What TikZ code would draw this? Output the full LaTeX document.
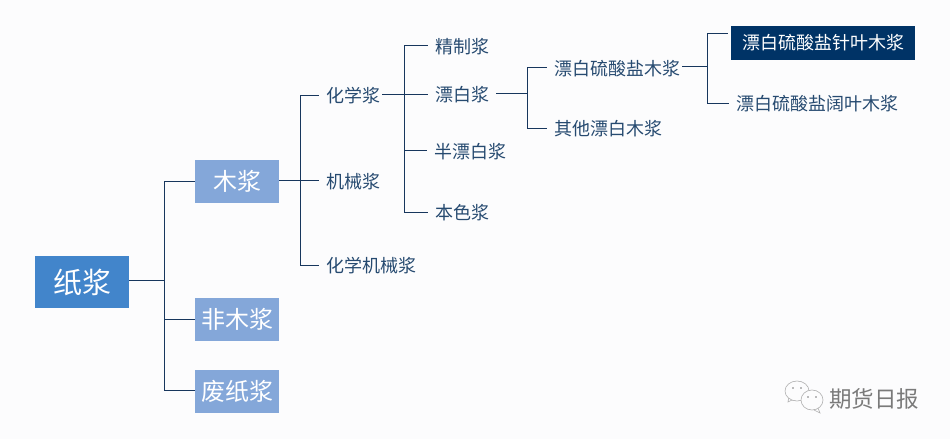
\documentclass[tikz,border=0pt]{standalone}
\usepackage{fontspec}
\setmainfont{Noto Sans CJK SC}[BoldFont={Noto Sans CJK SC}]
\definecolor{bgc}{HTML}{FCFCFD}
\definecolor{linec}{HTML}{17365D}
\definecolor{textc}{HTML}{264A70}
\definecolor{rootc}{HTML}{4285CB}
\definecolor{subc}{HTML}{84A7D9}
\definecolor{darkc}{HTML}{003366}
\definecolor{markc}{HTML}{7A7A7A}
\tikzset{
  conn/.style={draw=linec,line width=1pt},
  rootbox/.style={fill=rootc,text=white,minimum width=94pt,minimum height=52pt,inner sep=0pt,font=\fontsize{29}{29}\selectfont},
  subbox/.style={fill=subc,text=white,minimum width=84pt,minimum height=43pt,inner sep=0pt,font=\fontsize{24}{24}\selectfont},
  darkbox/.style={fill=darkc,text=white,minimum width=184pt,minimum height=34pt,inner sep=0pt,font=\fontsize{18}{18}\selectfont},
  leaf/.style={text=textc,inner xsep=7pt,inner ysep=0pt,font=\fontsize{18}{18}\selectfont},
  markt/.style={text=markc,inner sep=0pt,font=\fontsize{22.5}{22.5}\selectfont},
  icon/.style={draw=markc!60,line width=0.6pt,fill=bgc},
}
\begin{document}
\begin{tikzpicture}[x=1pt,y=-1pt]
\useasboundingbox (0,0) rectangle (950,439);
\fill[bgc] (0,0) rectangle (950,439);
% boxes
\node[rootbox] (zj) at (82,282) {纸浆};
\node[subbox] (mj) at (237,181.5) {木浆};
\node[subbox] (fm) at (237,319.5) {非木浆};
\node[subbox] (fz) at (237,391.5) {废纸浆};
\node[darkbox] (pz) at (823,43) {漂白硫酸盐针叶木浆};
% labels
\node[leaf] (hx) at (353,96) {化学浆};
\node[leaf] (jx) at (353,182) {机械浆};
\node[leaf] (hj) at (371,265.5) {化学机械浆};
\node[leaf] (jz) at (462,47) {精制浆};
\node[leaf] (pb) at (462,95) {漂白浆};
\node[leaf] (bp) at (470,152) {半漂白浆};
\node[leaf] (bs) at (462,212.5) {本色浆};
\node[leaf] (pl) at (617,69) {漂白硫酸盐木浆};
\node[leaf] (qt) at (608,128.5) {其他漂白木浆};
\node[leaf] (pk) at (817,103.5) {漂白硫酸盐阔叶木浆};
% trunk coordinates
\coordinate (a1) at (164,181);
\coordinate (a2) at (164,390);
\coordinate (a3) at (164,280);
\coordinate (a4) at (164,319);
\coordinate (b1) at (300,95);
\coordinate (b2) at (300,265);
\coordinate (b3) at (300,180);
\coordinate (c1) at (404,45);
\coordinate (c2) at (404,212);
\coordinate (c3) at (404,94);
\coordinate (c4) at (404,150);
\coordinate (d1) at (527,67);
\coordinate (d2) at (527,128);
\coordinate (d3) at (527,93);
\coordinate (e1) at (707,33);
\coordinate (e2) at (707,103);
\coordinate (e3) at (707,66);
% root
\draw[conn] (a1) -- (a2);
\draw[conn] (zj.east |- a3) -- (a3);
\draw[conn] (a1) -- (mj.west |- a1);
\draw[conn] (a4) -- (fm.west |- a4);
\draw[conn] (a2) -- (fz.west |- a2);
% wood
\draw[conn] (b1) -- (b2);
\draw[conn] (mj.east |- b3) -- (jx.west |- b3);
\draw[conn] (b1) -- (hx.west |- b1);
\draw[conn] (b2) -- (hj.west |- b2);
% chemical
\draw[conn] (c1) -- (c2);
\draw[conn] ([xshift=-5pt]hx.east |- c3) -- (pb.west |- c3);
\draw[conn] (c1) -- (jz.west |- c1);
\draw[conn] (c4) -- (bp.west |- c4);
\draw[conn] (c2) -- (bs.west |- c2);
% bleached
\draw[conn] (d1) -- (d2);
\draw[conn] (pb.east |- d3) -- (d3);
\draw[conn] (d1) -- (pl.west |- d1);
\draw[conn] (d2) -- (qt.west |- d2);
% sulfate
\draw[conn] (e1) -- (e2);
\draw[conn] ([xshift=-5pt]pl.east |- e3) -- (e3);
\draw[conn] (e1) -- ([xshift=-3pt]pz.west |- e1);
\draw[conn] (e2) -- (pk.west |- e2);
% watermark
\draw[icon] (797,385) ++(-8,11) -- ++(-1,6) -- ++(6,-3);
\draw[icon] (797,391) ellipse (12 and 10);
\fill[markc] (793,388) circle (0.8) (801,388) circle (0.8);
\draw[icon] (812,399) ++(6,9) -- ++(2,5) -- ++(-6,-3);
\draw[icon] (812,400) ellipse (11 and 10);
\fill[markc] (808,397) circle (0.8) (816,397) circle (0.8);
\node[markt] (wm) at (874,398.5) {期货日报};
\end{tikzpicture}
\end{document}
